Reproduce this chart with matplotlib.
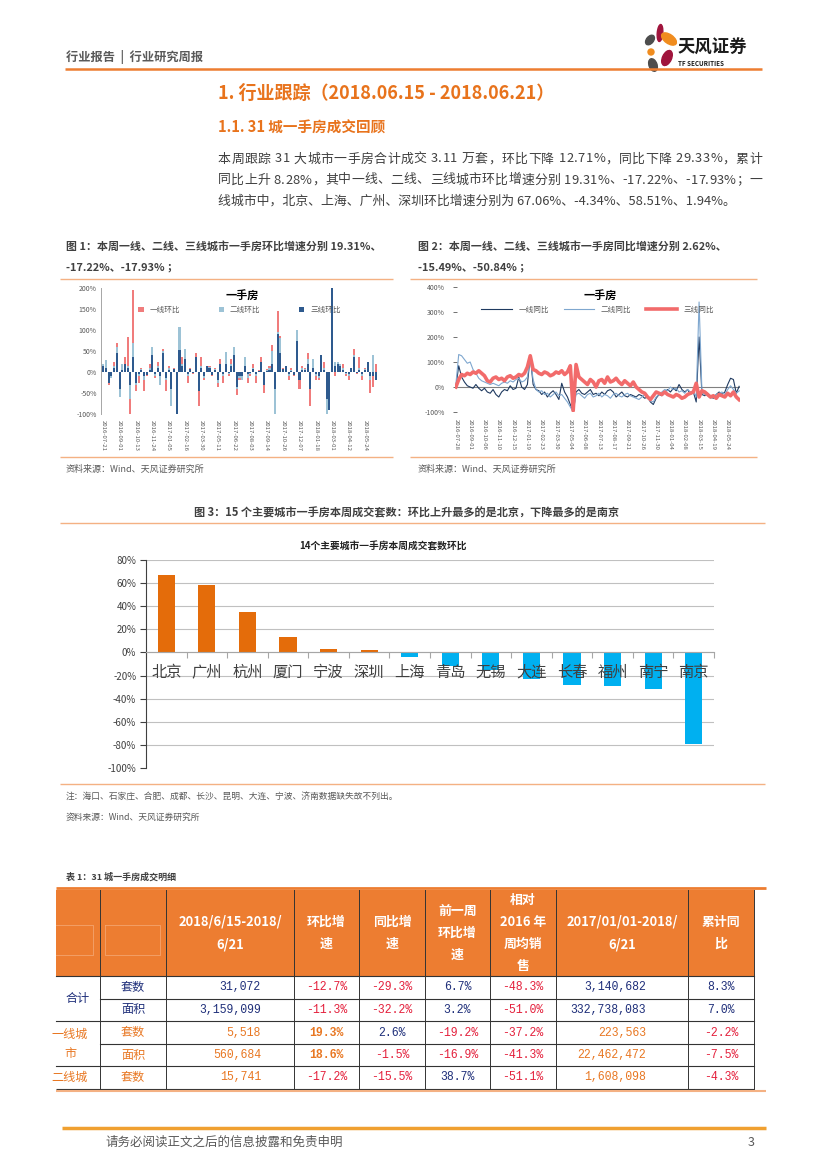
import matplotlib
matplotlib.use('Agg')
import matplotlib.pyplot as plt
import numpy as np
import pandas as pd
from matplotlib.patches import Ellipse, Rectangle

plt.rcParams['font.family'] = ['Noto Sans CJK SC', 'DejaVu Sans']

W, H = 827, 1169

# ---------------- data ----------------
# fig 1: weekly MoM growth (%) of new-home sales, tier 1/2/3 cities
t1_hb = [10, 5, -30, -5, 25, 68, -20, 10, 35, 83, -100, 195, -45, -25, 10, -45, -10, 18, 30, -15,
         25, -20, 55, -45, 15, -30, 10, -60, 30, 35, 25, -25, 10, -5, 45, -80, 35, -20, 15, 15,
         -10, 10, -35, 30, -25, 30, -10, 30, 50, -55, -20, -15, 10, -25, -10, 20, -25, 5, 35, -50,
         8, 15, 65, -40, 145, 85, 10, 10, -20, 10, -10, 60, -40, 15, 10, 45, -80, 20, -20, -20,
         10, 25, -40, -30, 15, -10, 15, 10, 20, -10, -20, 10, 55, -5, 35, -20, 10, 15, -50, -35, 19.31]
t2_hb = [20, 28, -20, -15, 15, 60, -60, 20, 10, 15, -65, 70, -30, -10, 8, -20, -5, 10, 60, -10,
         15, -30, 50, -20, 10, -80, 5, -80, 108, 20, 55, -10, 5, -3, 35, -30, 15, -15, 10, 12,
         -5, 8, -25, 15, -10, 48, -5, 20, 60, -40, -15, -20, 35, -15, -5, 10, -10, 3, 25, -30,
         5, 10, 50, -100, 95, 80, 5, 8, -10, 5, -5, 100, -15, 10, 8, 30, -20, 30, -10, -15,
         15, 10, -100, -50, 20, 25, 25, 20, 10, -5, -10, 8, 40, -3, 10, -10, 8, 20, -20, 40, -17.22]
t3_hb = [15, 10, -25, -10, 10, 45, -40, 5, 20, 10, -30, 35, -25, -5, 5, -10, -8, 5, 40, -5,
         10, -10, 45, -15, 5, -40, 8, -100, 52, 15, 30, -5, 8, -2, 35, -45, 10, -10, 15, 10,
         -8, 5, -20, 20, -5, 20, -3, 15, 40, -35, -10, -10, 15, -5, -3, 8, -5, 2, 25, -30,
         3, 5, 20, -40, 90, 45, 8, 15, -5, 3, -8, 75, -20, 5, 5, 20, -40, 10, -5, -10,
         40, 5, -65, -90, 200, 15, 20, 15, 5, -3, -5, 10, 35, -2, 5, -5, 5, 25, -10, -10, -17.93]

# fig 2: weekly YoY growth (%)
t1_tb = [0, 85, 40, 20, 5, 0, -5, 10, -5, -15, -5, -20, -25, -10, -30, -40, -20, -10, -15, 5,
         -10, -5, 40, 0, -10, 10, 125, 10, -10, -15, -30, -20, -40, -25, -15, -30, -50, 15, -20, -40,
         -70, -100, -20, -10, -25, -30, -20, -10, -30, -25, -35, -20, -30, -15, -10, -20, -40, -30, -20, -35,
         -40, -30, -35, -40, -30, -35, -45, -40, -60, -70, -45, -30, -35, -20, -10, -20, -5, -15, 10, -10,
         -20, -10, -30, -20, -60, 200, -30, -35, -25, -40, -45, -30, -20, -30, -20, 10, 35, 30, -25, 2.62]
t2_tb = [10, 130, 125, 110, 95, 100, 70, 55, 35, 25, 20, 15, 10, 15, 10, 5, 15, 20, 15, 25,
         20, 30, 35, 20, 25, 40, 115, 30, -10, -20, -15, -30, -25, -40, -30, -20, -35, -30, -45, -60,
         -80, -100, -30, -25, -35, -45, -30, -25, -40, -35, -25, -40, -30, -35, -45, -30, -25, -35, -40, -30,
         -25, -35, -40, -45, -50, -40, -30, -45, -55, -60, -40, -30, -20, -10, -15, 0, -10, -5, -20, -15,
         -25, -10, -20, -15, -40, 340, -20, -30, -35, -45, -40, -30, -25, -20, -30, -10, 5, -10, -25, -15.49]
t3_tb = [0, 30, 50, 45, 55, 50, 60, 55, 65, 55, 45, 25, 20, 35, 40, 30, 35, 25, 40, 45,
         35, 40, 50, 45, 55, 80, 125, 70, 65, 55, 50, 60, 55, 45, 50, 60, 55, 65, 50, 60,
         85, -95, 90, 40, 30, 20, 10, 30, 20, 0, 25, 30, 15, 40, 20, 25, 35, 20, 10, 25,
         15, 5, 20, 0, -10, -20, -25, -40, -50, -35, -20, -25, -30, -20, -30, -35, -40, -30, -35, -45,
         -40, -30, -25, -20, 15, -40, -15, -20, -30, -40, -35, -45, -30, -35, -40, -25, -35, -20, -40, -50.84]

# fig 3: 14 major cities, weekly MoM (%)
cities = ['北京', '广州', '杭州', '厦门', '宁波', '深圳', '上海', '青岛', '无锡', '大连', '长春', '福州', '南宁', '南京']
city_hb = [67.06, 58.51, 35, 13, 3, 1.94, -4.34, -12, -15, -23, -28, -29, -32, -79]

# table 1
tbl_header = ['', '', '2018/6/15-2018/\n6/21', '环比增\n速', '同比增\n速', '前一周\n环比增\n速',
              '相对\n2016 年\n周均销\n售', '2017/01/01-2018/\n6/21', '累计同\n比']
tbl_group = ['合计', '一线城\n市', '二线城']
tbl_kind = ['套数', '面积', '套数', '面积', '套数']
tbl_week = ['31,072', '3,159,099', '5,518', '560,684', '15,741']
tbl_hb = ['-12.7%', '-11.3%', '19.3%', '18.6%', '-17.2%']
tbl_tb = ['-29.3%', '-32.2%', '2.6%', '-1.5%', '-15.5%']
tbl_prev = ['6.7%', '3.2%', '-19.2%', '-16.9%', '38.7%']
tbl_2016 = ['-48.3%', '-51.0%', '-37.2%', '-41.3%', '-51.1%']
tbl_cum = ['3,140,682', '332,738,083', '223,563', '22,462,472', '1,608,098']
tbl_cumtb = ['8.3%', '7.0%', '-2.2%', '-7.5%', '-4.3%']

# ---------------- colours ----------------
orange = '#E8731C'
line_or = '#F4B183'
grey_txt = '#595959'
navy_txt = '#1F2F7A'
red_txt = '#E4203C'
or_txt = '#E87722'

fig = plt.figure(figsize=(W / 100, H / 100), dpi=100)
page = fig.add_axes([0, 0, 1, 1])
page.set_xlim(0, W)
page.set_ylim(H, 0)
page.axis('off')
renderer = fig.canvas.get_renderer()


def box(x0, y0, x1, y1):
    return [x0 / W, 1 - y1 / H, (x1 - x0) / W, (y1 - y0) / H]


def hline(y, x0, x1, c, lw):
    page.plot([x0, x1], [y, y], color=c, lw=lw, solid_capstyle='butt')


def justify(x0, x1, y, s, **kw):
    # spread characters so the line fills x0..x1, like the justified report text
    ws = []
    for ch in s:
        if ch == ' ':
            ws.append(kw['fontsize'] * 0.35)
            continue
        t = page.text(0, 0, ch, **kw)
        ws.append(t.get_window_extent(renderer).width)
        t.remove()
    gap = (x1 - x0 - sum(ws)) / (len(s) - 1)
    x = x0
    for ch, w in zip(s, ws):
        if ch != ' ':
            page.text(x, y, ch, va='center', **kw)
        x += w + gap


# ---------------- header ----------------
page.text(66, 57, '行业报告  |  行业研究周报', fontsize=8.8, color=grey_txt, fontweight='bold', va='center')
hline(69, 65, 762, '#ED7D31', 1.8)
for (cx_, cy_, w, h, ang, c) in [(660, 33, 5.5, 17, 5, '#A0143C'), (669, 39, 9, 17, -55, '#F08C1E'),
                                 (650, 40, 7, 11, 40, '#4D4D4D'), (651, 52, 6, 6, 0, '#F08C1E'),
                                 (667, 58, 9, 16, 25, '#A0143C'), (653, 65, 8, 13, -20, '#4D4D4D')]:
    page.add_patch(Ellipse((cx_, cy_), w, h, angle=ang, color=c))
page.text(677, 48, '天风证券', fontsize=12.5, fontweight='bold', color='#1a1a1a', va='center')
page.text(678, 63, 'TF SECURITIES', fontsize=4.5, fontweight='bold', color='#1a1a1a', va='center')

page.text(218, 93, '1. 行业跟踪（2018.06.15 - 2018.06.21）', fontsize=13, fontweight='bold', color=orange, va='center')
page.text(218, 128, '1.1. 31 城一手房成交回顾', fontsize=10.5, fontweight='bold', color=orange, va='center')
para = ['本周跟踪 31 大城市一手房合计成交 3.11 万套，环比下降 12.71%，同比下降 29.33%，累计',
        '同比上升 8.28%，其中一线、二线、三线城市环比增速分别 19.31%、-17.22%、-17.93%；一',
        '线城市中，北京、上海、广州、深圳环比增速分别为 67.06%、-4.34%、58.51%、1.94%。']
justify(218, 762, 159, para[0], fontsize=9.3, color='#404040')
justify(218, 762, 180, para[1], fontsize=9.3, color='#404040')
page.text(218, 201, para[2], fontsize=9.3, color='#404040', va='center')

# ---------------- figure 1 & 2 captions ----------------
cap = dict(fontsize=7.9, fontweight='bold', color='#404040', va='center')
page.text(66, 246, '图 1：本周一线、二线、三线城市一手房环比增速分别 19.31%、', **cap)
page.text(66, 268, '-17.22%、-17.93% ；', **cap)
page.text(418, 246, '图 2：本周一线、二线、三线城市一手房同比增速分别 2.62%、', **cap)
page.text(418, 268, '-15.49%、-50.84% ；', **cap)
hline(279, 60, 393, line_or, 1)
hline(279, 410, 757, line_or, 1)
hline(457, 60, 393, line_or, 1)
hline(457, 410, 757, line_or, 1)
page.text(66, 469, '资料来源：Wind、天风证券研究所', fontsize=6.5, color=grey_txt, va='center')
page.text(418, 469, '资料来源：Wind、天风证券研究所', fontsize=6.5, color=grey_txt, va='center')

# ---------------- figure 1 ----------------
ax1 = fig.add_axes(box(101, 288, 378, 414))
x1 = np.arange(len(t1_hb))
ax1.bar(x1, t1_hb, width=0.75, color='#F07C7C', label='一线环比')
ax1.bar(x1, t2_hb, width=0.75, color='#9DC3D6', label='二线环比')
ax1.bar(x1, t3_hb, width=0.75, color='#2E5A8E', label='三线环比')
ax1.set_ylim(-100, 200)
ax1.set_xlim(-0.8, len(x1) - 0.2)
ax1.set_yticks([-100, -50, 0, 50, 100, 150, 200])
ax1.yaxis.set_major_formatter(lambda v, p: f'{v:.0f}%')
d1 = pd.date_range(end='2018-06-21', periods=len(x1), freq='7D').strftime('%Y-%m-%d')
ax1.set_xticks(x1[::6])
ax1.set_xticklabels(d1[::6], rotation=270, fontsize=4.3, color=grey_txt)
ax1.tick_params(axis='y', labelsize=5, colors=grey_txt, length=0, pad=3)
ax1.tick_params(axis='x', length=0, pad=4)
for s in ['top', 'right', 'bottom']:
    ax1.spines[s].set_visible(False)
ax1.spines['left'].set_color('#A6A6A6')
ax1.spines['left'].set_linewidth(0.7)
ax1.text(0.51, 0.935, '一手房', transform=ax1.transAxes, ha='center', va='center', fontsize=8, fontweight='bold')
ax1.legend(ncol=3, loc='center', bbox_to_anchor=(0.5, 0.825), frameon=False, fontsize=5.5,
           handlelength=0.7, handleheight=0.7, columnspacing=5, labelcolor=grey_txt)
ax1.patch.set_alpha(0)

# ---------------- figure 2 ----------------
ax2 = fig.add_axes(box(455, 287, 740, 412))
x2 = np.arange(len(t1_tb))
ax2.axhline(0, color='#808080', lw=0.8)
ax2.plot(x2, t1_tb, color='#1F3A60', lw=0.8, label='一线同比')
ax2.plot(x2, t2_tb, color='#7FA7CF', lw=0.8, label='二线同比')
ax2.plot(x2, t3_tb, color='#F26B6B', lw=2.6, label='三线同比')
ax2.set_ylim(-100, 400)
ax2.set_xlim(-0.3, len(x2) - 0.7)
ax2.set_yticks([-100, 0, 100, 200, 300, 400])
ax2.yaxis.set_major_formatter(lambda v, p: f'{v:.0f}%')
d2 = pd.date_range(end='2018-06-21', periods=len(x2), freq='7D').strftime('%Y-%m-%d')
ax2.set_xticks(x2[::5])
ax2.set_xticklabels(d2[::5], rotation=270, fontsize=4.3, color=grey_txt)
ax2.tick_params(axis='y', labelsize=5, colors=grey_txt, direction='inout', length=3, width=0.6, pad=6)
ax2.tick_params(axis='x', length=0, pad=5)
for s in ['top', 'right', 'bottom', 'left']:
    ax2.spines[s].set_visible(False)
ax2.text(0.51, 0.928, '一手房', transform=ax2.transAxes, ha='center', va='center', fontsize=8, fontweight='bold')
ax2.legend(ncol=3, loc='center', bbox_to_anchor=(0.5, 0.816), frameon=False, fontsize=5.5,
           handlelength=4, columnspacing=2, labelcolor=grey_txt)
ax2.patch.set_alpha(0)

# ---------------- figure 3 ----------------
page.text(407, 513, '图 3：15 个主要城市一手房本周成交套数：环比上升最多的是北京，下降最多的是南京',
          fontsize=8, fontweight='bold', color='#404040', ha='center', va='center')
hline(523, 60, 765, line_or, 1)
hline(784, 60, 765, line_or, 1)
page.text(66, 797, '注：海口、石家庄、合肥、成都、长沙、昆明、大连、宁波、济南数据缺失故不列出。', fontsize=6.3, color=grey_txt, va='center')
page.text(66, 817, '资料来源：Wind、天风证券研究所', fontsize=6.3, color=grey_txt, va='center')
page.text(383, 547, '14个主要城市一手房本周成交套数环比', fontsize=7, fontweight='bold', color='#222222', ha='center', va='center')

ax3 = fig.add_axes(box(146, 560, 714, 768))
x3 = np.arange(len(cities))
cols3 = ['#E46C0A' if v > 0 else '#00B0F0' for v in city_hb]
yt3 = np.arange(-100, 81, 20)
for g in yt3[1:]:
    ax3.axhline(g, color='#C0C0C0', lw=0.8, zorder=0)
ax3.bar(x3, city_hb, width=0.42, color=cols3, zorder=2)
ax3.set_ylim(-100, 80)
ax3.set_xlim(-0.5, len(cities) - 0.5)
ax3.set_yticks(yt3)
ax3.yaxis.set_major_formatter(lambda v, p: f'{v:.0f}%')
ax3.tick_params(axis='y', labelsize=7, colors='#404040', length=4, width=0.8, pad=3)
ax3.spines['bottom'].set_position(('data', 0))
ax3.spines['bottom'].set_color('#A6A6A6')
ax3.spines['left'].set_color('#404040')
ax3.spines['left'].set_linewidth(0.8)
ax3.spines['top'].set_visible(False)
ax3.spines['right'].set_visible(False)
ax3.set_xticks(np.arange(-0.5, len(cities), 1))
ax3.set_xticklabels([])
ax3.tick_params(axis='x', length=4, colors='#A6A6A6', direction='out')
for i, name in enumerate(cities):
    ax3.text(x3[i], -17, name, ha='center', va='center', fontsize=11, color='#404040', zorder=5)
ax3.patch.set_alpha(0)

# ---------------- table 1 ----------------
page.text(66, 877, '表 1：31 城一手房成交明细', fontsize=6.5, fontweight='bold', color='#404040', va='center')
cx = [56, 100, 166, 294, 359, 425, 490, 556, 688, 754]
ry = [890, 976, 999, 1021, 1044, 1066, 1089]
page.add_patch(Rectangle((cx[0], ry[0]), cx[-1] - cx[0], ry[1] - ry[0], color='#ED7D31', lw=0))
# faint inner boxes in the first two header cells
page.plot([cx[0], 93, 93, cx[0]], [925, 925, 955, 955], color='#F4A46E', lw=0.6)
page.plot([105, 160, 160, 105, 105], [925, 925, 955, 955, 925], color='#F4A46E', lw=0.6)
for j, s in enumerate(tbl_header):
    if s:
        page.text((cx[j] + cx[j + 1]) / 2, (ry[0] + ry[1]) / 2, s, fontsize=9.3, fontweight='bold',
                  color='white', ha='center', va='center', linespacing=1.75)
# grid lines
for x in cx[1:]:
    page.plot([x, x], [ry[0], ry[-1]], color='#333333', lw=0.7)
for k, y in enumerate(ry[1:-1], start=1):
    x0 = cx[1] if k in (2, 4) else cx[0]
    page.plot([x0, cx[-1]], [y, y], color='#333333', lw=0.8)
hline(888, 56, 766, '#ED7D31', 2)
hline(ry[-1], 56, 754, '#333333', 0.8)
hline(ry[-1] + 2, 56, 766, '#F4B183', 1.5)

# body
page.text(78, (ry[1] + ry[3]) / 2, tbl_group[0], fontsize=8.7, color=navy_txt, ha='center', va='center')
page.text(70, (ry[3] + ry[5]) / 2, tbl_group[1], fontsize=8.7, color=or_txt, ha='center', va='center', linespacing=1.6)
page.text(70, (ry[5] + ry[6]) / 2, tbl_group[2], fontsize=8.7, color=or_txt, ha='center', va='center')

mono = 'Liberation Mono'
for r in range(5):
    yc = (ry[r + 1] + ry[r + 2]) / 2
    base = navy_txt if r < 2 else or_txt
    page.text((cx[1] + cx[2]) / 2, yc, tbl_kind[r], fontsize=8.7, color=base, ha='center', va='center')
    page.text(cx[3] - 33, yc, tbl_week[r], fontsize=8.3, family=mono, color=base, ha='right', va='center')
    page.text(cx[8] - 42, yc, tbl_cum[r], fontsize=8.3, family=mono, color=base, ha='right', va='center')
    for j, col in zip([3, 4, 5, 6, 8], [tbl_hb, tbl_tb, tbl_prev, tbl_2016, tbl_cumtb]):
        v = col[r]
        if r >= 2 and j == 3 and not v.startswith('-'):
            c, fw = or_txt, 'bold'
        else:
            c, fw = (red_txt if v.startswith('-') else navy_txt), 'normal'
        page.text((cx[j] + cx[j + 1]) / 2, yc, v, fontsize=8.3, family=mono, color=c, fontweight=fw,
                  ha='center', va='center')

# ---------------- footer ----------------
hline(1128, 62, 766, '#F0A030', 2.5)
page.text(105, 1142, '请务必阅读正文之后的信息披露和免责申明', fontsize=9, color=grey_txt, va='center')
page.text(755, 1142, '3', fontsize=9, color=grey_txt, va='center', ha='right')

fig.savefig('out.png', dpi=100)
